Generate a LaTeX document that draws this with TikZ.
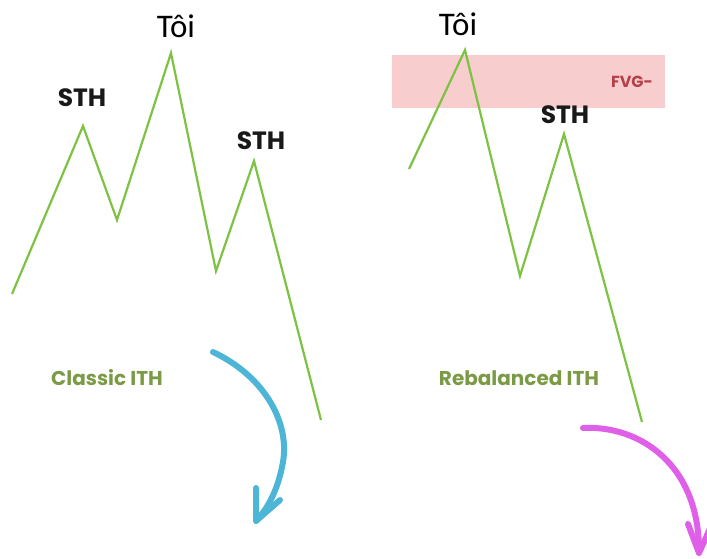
\documentclass[tikz,border=0pt]{standalone}
\usepackage{fontspec}
\setmainfont{Carlito}
\newfontfamily\popfont{Poppins}
\usetikzlibrary{calc}
\definecolor{zig}{HTML}{7DC242}
\definecolor{olive}{HTML}{7B9A45}
\definecolor{arrblue}{HTML}{4DB6D6}
\definecolor{arrpink}{HTML}{E05FE8}
\definecolor{fvgfill}{HTML}{F7CDCD}
\definecolor{fvgtext}{HTML}{B5404A}
\tikzset{
  zigline/.style={draw=zig, line width=2.2pt, line join=miter},
  toplabel/.style={font=\fontsize{33}{33}\selectfont, text=black, inner sep=0pt},
  sthlabel/.style={font=\popfont\bfseries\fontsize{25}{25}\selectfont, text=black!90, inner sep=0pt},
  ithlabel/.style={font=\popfont\bfseries\fontsize{20}{20}\selectfont, text=olive, inner sep=0pt},
  bluearrow/.style={draw=arrblue, line width=6pt, line cap=round, line join=round},
  pinkarrow/.style={draw=arrpink, line width=6pt, line cap=round, line join=round},
}
\begin{document}
\begin{tikzpicture}[x=1pt,y=-1pt]
\useasboundingbox (0,0) rectangle (707,558);
% FVG zone
\fill[fvgfill] (392,55) rectangle (665,108);
\node[font=\popfont\bfseries\fontsize{16}{16}\selectfont, text=fvgtext, inner sep=0pt] (fvg) at (632,82) {FVG-};
% left zigzag
\coordinate (l0) at (12,294);
\coordinate (l1) at (83,126);
\coordinate (l2) at (117,220);
\coordinate (l3) at (171,53);
\coordinate (l4) at (216,271);
\coordinate (l5) at (254,161);
\coordinate (l6) at (321,420);
\draw[zigline] (l0) -- (l1) -- (l2) -- (l3) -- (l4) -- (l5) -- (l6);
% right zigzag
\coordinate (r0) at (409,169);
\coordinate (r1) at (465,50);
\coordinate (r2) at (520,276);
\coordinate (r3) at (564,134);
\coordinate (r4) at (642,422);
\draw[zigline] (r0) -- (r1) -- (r2) -- (r3) -- (r4);
% labels
\node[toplabel] (toiL) at (176,26) {Tôi};
\node[toplabel] (toiR) at (458,24) {Tôi};
\node[sthlabel] (sth1) at (82,98) {STH};
\node[sthlabel] (sth2) at (261,141) {STH};
\node[sthlabel] (sth3) at (565,115) {STH};
\node[ithlabel] (classic) at (107,378) {Classic ITH};
\node[ithlabel] (rebal) at (519,378) {Rebalanced ITH};
% blue arrow
\coordinate (b0) at (213,352);
\coordinate (b1) at (256,521);
\coordinate (bl) at (256,488);
\coordinate (br) at (280,500);
\draw[bluearrow] (b0) .. controls (262,375) and (290,420) .. (283,462) .. controls (278,490) and (268,508) .. (b1);
\draw[bluearrow] (bl) -- (b1) -- (br);
% pink arrow
\coordinate (p0) at (583,428);
\coordinate (p1) at (699,553);
\coordinate (pl) at (688,524);
\coordinate (pr) at (712,524);
\draw[pinkarrow] (p0) .. controls (640,425) and (700,465) .. (p1);
\draw[pinkarrow] (pl) -- (p1) -- (pr);
\end{tikzpicture}
\end{document}
